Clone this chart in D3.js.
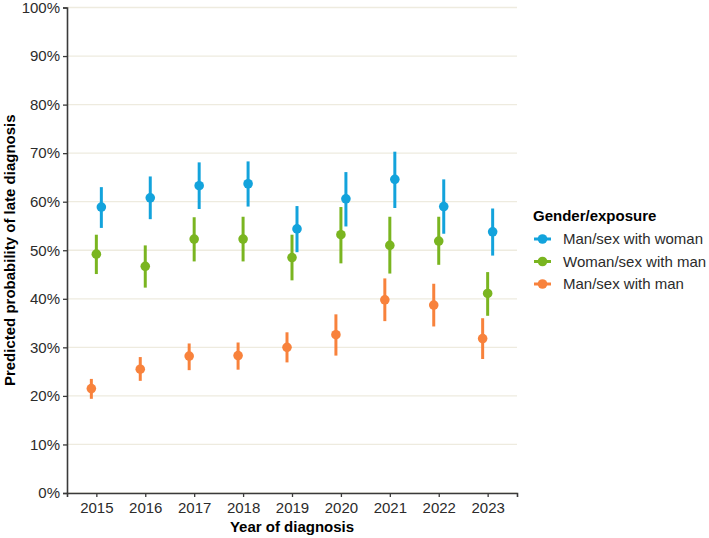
<!DOCTYPE html>
<html>
<head>
<meta charset="utf-8">
<script src="https://cdn.jsdelivr.net/npm/d3@7"></script>
<style>
  body { margin: 0; background: #fff; }
  svg { font-family: "Liberation Sans", Arial, sans-serif; }
</style>
</head>
<body>
<div id="chart"></div>
<script>
var years = ["2015", "2016", "2017", "2018", "2019", "2020", "2021", "2022", "2023"];
var groups = ["Man/sex with woman", "Woman/sex with man", "Man/sex with man"];
var groupColors = ["#13a3dc", "#7ab520", "#f8823c"];

// estimates and 95% intervals, one array per group
var msw = [58.9, 60.8, 63.3, 63.7, 54.4, 60.6, 64.6, 59.0, 53.8];
var mswLow = [54.6, 56.4, 58.5, 59.0, 49.6, 54.9, 58.7, 53.4, 48.9];
var mswHigh = [63.0, 65.2, 68.1, 68.3, 59.1, 66.1, 70.3, 64.6, 58.6];

var wsm = [49.2, 46.7, 52.3, 52.3, 48.5, 53.2, 51.0, 51.9, 41.1];
var wsmLow = [45.1, 42.3, 47.7, 47.7, 43.8, 47.3, 45.2, 47.0, 36.5];
var wsmHigh = [53.2, 51.0, 56.8, 56.9, 53.2, 58.9, 56.9, 56.9, 45.5];

var msm = [21.5, 25.5, 28.2, 28.3, 30.0, 32.6, 39.8, 38.7, 31.8];
var msmLow = [19.4, 23.1, 25.3, 25.4, 26.9, 28.3, 35.4, 34.3, 27.6];
var msmHigh = [23.5, 28.0, 30.8, 31.0, 33.1, 36.8, 44.2, 43.1, 36.0];

var yTicks = [0, 10, 20, 30, 40, 50, 60, 70, 80, 90, 100];

var series = [
    { name: groups[0], est: msw, lo: mswLow, hi: mswHigh },
    { name: groups[1], est: wsm, lo: wsmLow, hi: wsmHigh },
    { name: groups[2], est: msm, lo: msmLow, hi: msmHigh }
];

var width = 709, height = 538;
var plotLeft = 67, plotRight = 517, plotTop = 7.5, plotBottom = 493;
var fontSize = 15;

var svg = d3.select("#chart").append("svg")
    .attr("width", width)
    .attr("height", height);

// discrete axis with ggplot-like 0.6 expansion on each side
var xScale = d3.scalePoint()
    .domain(years)
    .range([plotLeft, plotRight])
    .padding(0.6);

var yScale = d3.scaleLinear()
    .domain([0, 100])
    .range([plotBottom, plotTop]);

// dodge offsets: orange left, green centre, blue right
var dodge = d3.scalePoint()
    .domain([groups[2], groups[1], groups[0]])
    .range([-5, 5]);

var colorScale = d3.scaleOrdinal().domain(groups).range(groupColors);

// grid
svg.append("g")
    .selectAll("line")
    .data(yTicks)
    .join("line")
    .attr("x1", plotLeft)
    .attr("x2", plotRight)
    .attr("y1", function (d) { return yScale(d); })
    .attr("y2", function (d) { return yScale(d); })
    .attr("stroke", "#eeebdf")
    .attr("stroke-width", 1.3);

// marks
series.forEach(function (s) {
    var g = svg.append("g");
    var col = colorScale(s.name);
    var off = dodge(s.name);
    g.selectAll("line")
        .data(years)
        .join("line")
        .attr("x1", function (d) { return xScale(d) + off; })
        .attr("x2", function (d) { return xScale(d) + off; })
        .attr("y1", function (d, i) { return yScale(s.lo[i]); })
        .attr("y2", function (d, i) { return yScale(s.hi[i]); })
        .attr("stroke", col)
        .attr("stroke-width", 3);
    g.selectAll("circle")
        .data(years)
        .join("circle")
        .attr("cx", function (d) { return xScale(d) + off; })
        .attr("cy", function (d, i) { return yScale(s.est[i]); })
        .attr("r", 4.8)
        .attr("fill", col);
});

// axes
var yAxis = svg.append("g")
    .attr("transform", "translate(" + plotLeft + ",0)")
    .call(d3.axisLeft(yScale).tickValues(yTicks).tickSize(4).tickPadding(3)
        .tickFormat(function (d) { return d + "%"; }));
var xAxis = svg.append("g")
    .attr("transform", "translate(0," + plotBottom + ")")
    .call(d3.axisBottom(xScale).tickSize(4).tickPadding(5));

[yAxis, xAxis].forEach(function (ax) {
    ax.select(".domain").attr("stroke", "#3a3a3a").attr("stroke-width", 1.6);
    ax.selectAll(".tick line").attr("stroke", "#3a3a3a").attr("stroke-width", 1.3);
    ax.selectAll(".tick text")
        .attr("fill", "#2b2b2b")
        .attr("font-size", fontSize)
        .attr("font-family", "Liberation Sans, Arial, sans-serif");
});

// axis titles
svg.append("text")
    .attr("x", (plotLeft + plotRight) / 2)
    .attr("y", 532)
    .attr("text-anchor", "middle")
    .attr("font-size", fontSize)
    .attr("font-weight", "bold")
    .attr("fill", "#000")
    .text("Year of diagnosis");

svg.append("text")
    .attr("transform", "translate(15," + ((plotTop + plotBottom) / 2) + ") rotate(-90)")
    .attr("text-anchor", "middle")
    .attr("font-size", fontSize)
    .attr("font-weight", "bold")
    .attr("fill", "#000")
    .text("Predicted probability of late diagnosis");

// legend
var legend = svg.append("g").attr("transform", "translate(533,0)");
legend.append("text")
    .attr("x", 0)
    .attr("y", 221)
    .attr("font-size", fontSize)
    .attr("font-weight", "bold")
    .attr("fill", "#000")
    .text("Gender/exposure");

var items = legend.selectAll(".item")
    .data(groups)
    .join("g")
    .attr("class", "item")
    .attr("transform", function (d, i) { return "translate(0," + (239 + i * 22.5) + ")"; });
items.append("line")
    .attr("x1", 1)
    .attr("x2", 18)
    .attr("stroke", function (d) { return colorScale(d); })
    .attr("stroke-width", 3);
items.append("circle")
    .attr("cx", 9.5)
    .attr("r", 4.8)
    .attr("fill", function (d) { return colorScale(d); });
items.append("text")
    .attr("x", 30)
    .attr("dy", "0.35em")
    .attr("font-size", fontSize)
    .attr("fill", "#2b2b2b")
    .text(function (d) { return d; });
</script>
</body>
</html>
